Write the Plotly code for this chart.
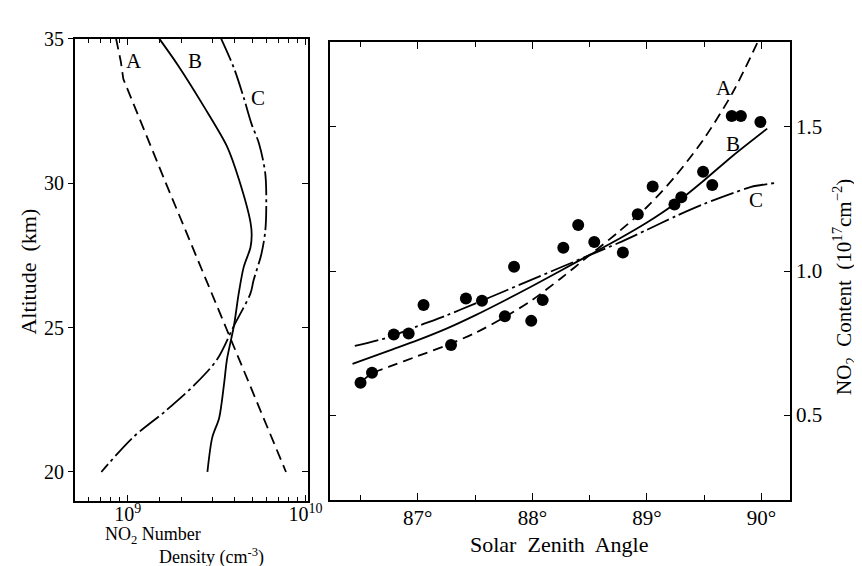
import plotly.graph_objects as go

W, H = 862, 566

# ---------------- Left panel data: NO2 number density profiles (units of 1e9 cm^-3)
alt_A = [35, 34.2, 33.6, 30, 25, 20]
dens_A = [0.859, 0.914, 0.944, 1.637, 3.565, 7.762]

alt_B = [35, 34.08, 32.62, 31.27, 30.15, 28.65, 28.21, 27.77, 27.09, 26.18, 25.06, 23.9, 23.02, 21.87, 21.19, 20]
dens_B = [1.503, 1.914, 2.698, 3.614, 4.207, 4.898, 4.977, 4.898, 4.487, 4.207, 3.954, 3.614, 3.475, 3.266, 2.985, 2.805]

alt_C = [35, 33.98, 32.96, 32.05, 31.37, 30.35, 29.23, 28.32, 27.53, 26.62, 26.18, 25.06, 23.9, 23.02, 22.1, 21.19, 20]
dens_C = [3.350, 3.954, 4.487, 4.966, 5.470, 5.929, 6.012, 5.929, 5.636, 5.093, 4.898, 3.954, 3.184, 2.377, 1.622, 1.067, 0.710]

# ---------------- Right panel data: NO2 column content (1e17 cm^-2) vs solar zenith angle
obs_sza = [86.50, 86.60, 86.79, 86.92, 87.05, 87.29, 87.42, 87.56, 87.76, 87.84, 87.99, 88.09,
           88.27, 88.40, 88.54, 88.79, 88.92, 89.05, 89.24, 89.30, 89.49, 89.57, 89.74, 89.82, 89.99]
obs_no2 = [0.612, 0.647, 0.780, 0.783, 0.882, 0.743, 0.905, 0.897, 0.843, 1.015, 0.827, 0.899,
           1.081, 1.160, 1.101, 1.064, 1.197, 1.293, 1.231, 1.256, 1.344, 1.298, 1.538, 1.538, 1.517]

sza_A = [86.50, 86.60, 86.75, 87.00, 87.25, 87.50, 87.75, 88.00, 88.25, 88.50, 88.75, 89.00, 89.25, 89.50, 89.75, 89.97]
col_A = [0.613, 0.645, 0.668, 0.705, 0.742, 0.785, 0.838, 0.900, 0.975, 1.055, 1.135, 1.222, 1.330, 1.460, 1.620, 1.797]

sza_B = [86.43, 86.75, 87.00, 87.25, 87.50, 87.75, 88.00, 88.25, 88.50, 88.75, 89.00, 89.25, 89.50, 89.75, 90.05]
col_B = [0.678, 0.724, 0.760, 0.800, 0.846, 0.896, 0.948, 1.002, 1.056, 1.110, 1.168, 1.235, 1.315, 1.400, 1.494]

sza_C = [86.45, 86.75, 87.00, 87.25, 87.50, 87.75, 88.00, 88.25, 88.50, 88.75, 89.00, 89.25, 89.50, 89.75, 89.91, 90.11]
col_C = [0.740, 0.771, 0.809, 0.846, 0.887, 0.929, 0.971, 1.013, 1.055, 1.097, 1.143, 1.190, 1.233, 1.270, 1.292, 1.305]

alt_ticks = [20, 25, 30, 35]
sza_ticks = [87, 88, 89, 90]
sza_tick_labels = ["87°", "88°", "89°", "90°"]
col_ticks = [0.5, 1.0, 1.5]
col_tick_labels = ["0.5", "1.0", "1.5"]

FONT = "Liberation Serif"
BLACK = "black"

fig = go.Figure()

def dens(v):
    return [d * 1e9 for d in v]

fig.add_trace(go.Scatter(x=dens(dens_A), y=alt_A, mode="lines", xaxis="x", yaxis="y",
                         line=dict(color=BLACK, width=1.8, dash="11px,6px"), showlegend=False))
fig.add_trace(go.Scatter(x=dens(dens_B), y=alt_B, mode="lines", xaxis="x", yaxis="y",
                         line=dict(color=BLACK, width=1.8, shape="spline", smoothing=0.8), showlegend=False))
fig.add_trace(go.Scatter(x=dens(dens_C), y=alt_C, mode="lines", xaxis="x", yaxis="y",
                         line=dict(color=BLACK, width=1.8, shape="spline", smoothing=0.9,
                                   dash="24px,4px,3px,4px"), showlegend=False))

fig.add_trace(go.Scatter(x=sza_A, y=col_A, mode="lines", xaxis="x2", yaxis="y2",
                         line=dict(color=BLACK, width=1.8, shape="spline", smoothing=0.8,
                                   dash="10px,6px"), showlegend=False))
fig.add_trace(go.Scatter(x=sza_B, y=col_B, mode="lines", xaxis="x2", yaxis="y2",
                         line=dict(color=BLACK, width=1.8, shape="spline", smoothing=0.8), showlegend=False))
fig.add_trace(go.Scatter(x=sza_C, y=col_C, mode="lines", xaxis="x2", yaxis="y2",
                         line=dict(color=BLACK, width=1.8, shape="spline", smoothing=0.8,
                                   dash="24px,4px,3px,4px"), showlegend=False))
fig.add_trace(go.Scatter(x=obs_sza, y=obs_no2, mode="markers", xaxis="x2", yaxis="y2",
                         marker=dict(color=BLACK, size=12), showlegend=False))

def px_x(p):
    return p / W

def px_y(p):
    return 1 - p / H

minor_dens = [5e8, 6e8, 7e8, 8e8, 9e8, 1.5e9, 2e9, 3e9, 4e9, 5e9, 6e9, 7e9, 8e9, 9e9]

axis_common = dict(showline=True, linecolor=BLACK, linewidth=1.5, showgrid=False,
                   zeroline=False, tickcolor=BLACK, tickwidth=1.2,
                   tickfont=dict(family=FONT, size=21, color=BLACK))

fig.update_layout(
    width=W, height=H, margin=dict(l=0, r=0, t=0, b=0),
    paper_bgcolor="white", plot_bgcolor="white",
    xaxis=dict(axis_common, type="log", domain=[px_x(68), px_x(305)],
               range=[8.702, 10.012], anchor="y", mirror="ticks", ticks="inside", ticklen=7,
               tickvals=[1e9, 1e10], ticktext=["10<sup>9</sup>", "10<sup>10</sup>"],
               ticklabelstandoff=-6, tickfont=dict(family=FONT, size=20, color=BLACK),
               minor=dict(tickvals=minor_dens, ticks="inside", ticklen=5, tickcolor=BLACK, tickwidth=1.1)),
    yaxis=dict(axis_common, domain=[px_y(492), px_y(20)], range=[18.98, 35],
               anchor="x", mirror=True, ticks="outside", ticklen=5, tickvals=alt_ticks,
               tickfont=dict(family=FONT, size=20, color=BLACK)),
    yaxis3=dict(axis_common, overlaying="y", side="right", anchor="x", range=[18.98, 35],
                ticks="inside", ticklen=6, tickvals=alt_ticks, showticklabels=False, showline=False),
    xaxis2=dict(axis_common, domain=[px_x(328), px_x(796)], range=[86.236, 90.25],
                anchor="y2", mirror="ticks", ticks="inside", ticklen=8,
                tickvals=sza_ticks, ticktext=sza_tick_labels, ticklabelstandoff=-2,
                minor=dict(tickvals=[86.5, 87.5, 88.5, 89.5], ticks="inside", ticklen=6,
                           tickcolor=BLACK, tickwidth=1.1)),
    yaxis2=dict(axis_common, domain=[px_y(491), px_y(23)], range=[0.204, 1.796],
                anchor="x2", side="right", mirror="ticks", ticks="inside", ticklen=6,
                tickvals=col_ticks, ticktext=col_tick_labels),
)

# invisible trace to activate yaxis3 (inner ticks on right side of left panel)
fig.add_trace(go.Scatter(x=[1e9], y=[20], xaxis="x", yaxis="y3", mode="markers",
                         marker=dict(opacity=0), hoverinfo="skip", showlegend=False))

ann_font = dict(family=FONT, size=21, color=BLACK)
indent = "\u00a0" * 12
annotations = [
    # left panel curve labels (log axis -> log10 coordinates)
    dict(x=9.033, y=34.22, xref="x", yref="y", text="A", showarrow=False, font=ann_font),
    dict(x=9.376, y=34.22, xref="x", yref="y", text="B", showarrow=False, font=ann_font),
    dict(x=9.735, y=32.96, xref="x", yref="y", text="C", showarrow=False, font=ann_font),
    # right panel curve labels
    dict(x=89.67, y=1.636, xref="x2", yref="y2", text="A", showarrow=False, font=ann_font),
    dict(x=89.755, y=1.442, xref="x2", yref="y2", text="B", showarrow=False, font=ann_font),
    dict(x=89.95, y=1.245, xref="x2", yref="y2", text="C", showarrow=False, font=ann_font),
    # axis titles
    dict(x=px_x(21), y=px_y(258), xref="paper", yref="paper", text="Altitude  (km)",
         textangle=-90, showarrow=False, font=dict(family=FONT, size=22, color=BLACK),
         xanchor="center", yanchor="middle"),
    dict(x=px_x(97), y=px_y(562), xref="paper", yref="paper",
         text="NO<sub>2</sub> Number<br>" + indent + "Density (cm<sup>-3</sup>)",
         align="left", showarrow=False, font=dict(family=FONT, size=18, color=BLACK),
         xanchor="left", yanchor="bottom"),
    dict(x=px_x(561), y=px_y(536), xref="paper", yref="paper", text="Solar  Zenith  Angle",
         showarrow=False, font=dict(family=FONT, size=22, color=BLACK), xanchor="center", yanchor="middle"),
    dict(x=px_x(851), y=px_y(273), xref="paper", yref="paper",
         text="NO<sub>2</sub>  Content  (10<sup>17</sup>cm<sup>−2</sup>)",
         textangle=-90, showarrow=False, font=dict(family=FONT, size=21, color=BLACK),
         xanchor="center", yanchor="middle"),
]
fig.update_layout(annotations=annotations)

fig.write_html("out.html")
